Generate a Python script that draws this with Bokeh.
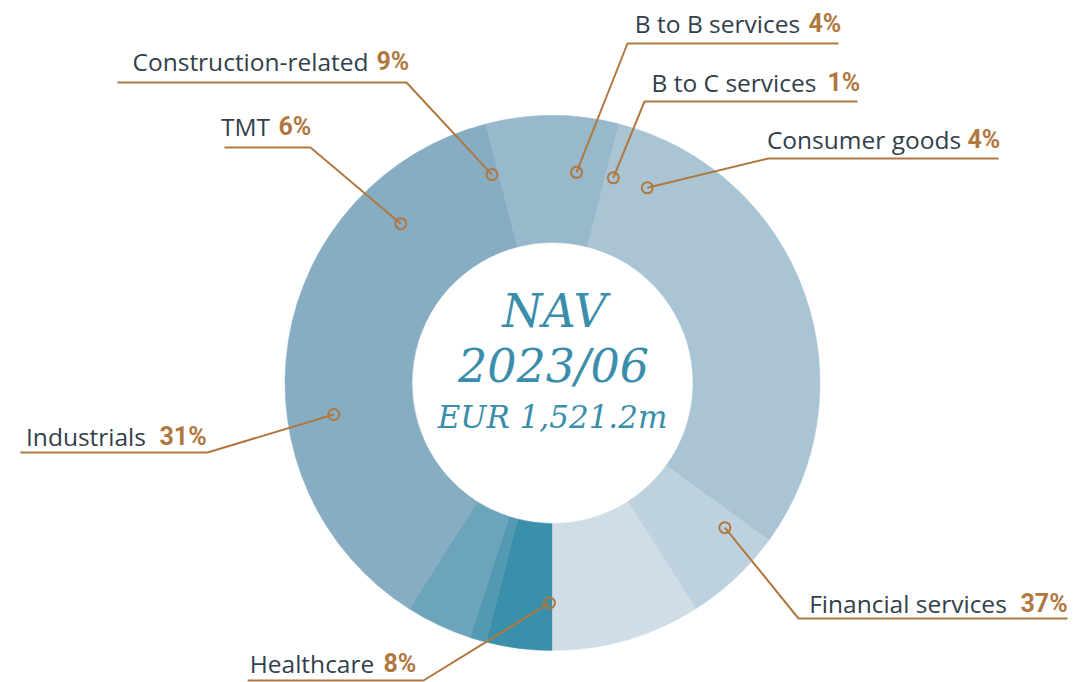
import math
from bokeh.plotting import figure
from bokeh.models import Range1d
from bokeh.embed import file_html
from bokeh.resources import INLINE
from bokeh.core.properties import value

# ---------------- data ----------------
categories = ["B to B services", "B to C services", "Consumer goods", "Financial services",
              "Healthcare", "Industrials", "TMT", "Construction-related"]
shares = [4, 1, 4, 37, 8, 31, 6, 9]
pct_labels = ["4%", "1%", "4%", "37%", "8%", "31%", "6%", "9%"]
center_title = "NAV"
center_date = "2023/06"
center_value = "EUR 1,521.2m"

# ---------------- style / layout ----------------
slice_colors = ["#3a8fab", "#5499b2", "#6ca5bb", "#86adc2",
                "#98b9cb", "#a9c5d4", "#bdd1de", "#cfdde6"]
BROWN = "#b0783f"
DARK = "#323f4b"
TEAL = "#3b8eab"

W, H = 1075, 682
CX, CY = 552, 382.5          # pixel centre of donut
R_IN, R_OUT = 140.5, 267.5
SLICE_START = 180             # degrees clockwise from 12 o'clock
LABEL_START = 0
BASE_FIX = 0.36               # baseline correction (fraction of font size)

# per-label layout (pixel coords): name_centre_x, pct_x, baseline_y, ul_x0, ul_x1, ul_y, elbow side
label_layout = [
    (717, 808, 32, 627, 838, 43, "L"),
    (733.5, 827, 91, 644, 857, 101, "L"),
    (863.5, 967, 148, 768, 998, 158, "L"),
    (907.5, 1020, 612, 798, 1067, 618, "L"),
    (311.5, 383, 672, 247, 423, 680, "R"),
    (85.5, 159, 445, 20, 207, 452, "R"),
    (245, 278, 135, 224, 310, 147, "R"),
    (250, 376, 70, 117, 406, 82, "R"),
]
anchor_nudge = [-0.7, 0.3, 0.7, 31, 0.8, 11.6, -0.4, 0]
anchor_r = [212, 214, 217, 225, 220, 221, 220, 217]

LBL_SIZE = 24.5
PCT_SIZE = 25


def Y(py):
    return -py


p = figure(width=W, height=H, output_backend="svg", toolbar_location=None,
           x_range=Range1d(0, W), y_range=Range1d(-H, 0),
           x_axis_type=None, y_axis_type=None, min_border=0,
           outline_line_color=None, background_fill_color="white",
           border_fill_color="white")
p.xgrid.visible = False
p.ygrid.visible = False

# wedges
total = float(sum(shares))
starts, ends = [], []
cum = 0.0
for v in shares:
    t0 = SLICE_START + cum / total * 360.0
    t1 = t0 + v / total * 360.0
    starts.append(math.radians(90 - t1))
    ends.append(math.radians(90 - t0))
    cum += v

p.annular_wedge(x=[CX] * len(shares), y=[Y(CY)] * len(shares),
                inner_radius=R_IN, outer_radius=R_OUT,
                start_angle=starts, end_angle=ends,
                fill_color=slice_colors, line_color=slice_colors, line_width=0.5)

# label anchors
ax, ay = [], []
cum = 0.0
for i, v in enumerate(shares):
    th = LABEL_START + (cum + v / 2) / total * 360.0 + anchor_nudge[i]
    r = anchor_r[i]
    ax.append(CX + r * math.sin(math.radians(th)))
    ay.append(Y(CY - r * math.cos(math.radians(th))))
    cum += v

# leader lines + underlines
xs, ys = [], []
for i, (nx, px, by, u0, u1, uy, side) in enumerate(label_layout):
    ex = u0 if side == "L" else u1
    xs.append([u0 if side == "R" else u1, ex, ax[i]])
    ys.append([Y(uy), Y(uy), ay[i]])
p.multi_line(xs=xs, ys=ys, line_color=BROWN, line_width=2)
p.scatter(x=ax, y=ay, size=11, marker="circle", line_color=BROWN,
          line_width=2, fill_alpha=0)

# label texts
p.text(x=[l[0] for l in label_layout],
       y=[Y(l[2] - BASE_FIX * LBL_SIZE) for l in label_layout],
       text=categories, text_font=value("Open Sans"), text_font_size=value(f"{LBL_SIZE}px"),
       text_color=DARK, text_align="center", text_baseline="alphabetic")
p.text(x=[l[1] for l in label_layout],
       y=[Y(l[2] - BASE_FIX * PCT_SIZE) for l in label_layout],
       text=pct_labels, text_font=value("Roboto"), text_font_size=value(f"{PCT_SIZE}px"),
       text_font_style="bold", text_color=BROWN, text_align="left",
       text_baseline="alphabetic")

# centre text
for txt, xo, base, size in [(center_title, 2, 327, 46), (center_date, 1, 382, 46),
                            (center_value, 0, 428, 31)]:
    p.text(x=[CX + xo], y=[Y(base - BASE_FIX * size)], text=[txt],
           text_font=value("DejaVu Serif"), text_font_size=value(f"{size}px"),
           text_font_style="italic", text_color=TEAL,
           text_align="center", text_baseline="alphabetic")

open("out.html", "w").write(file_html(p, INLINE))
